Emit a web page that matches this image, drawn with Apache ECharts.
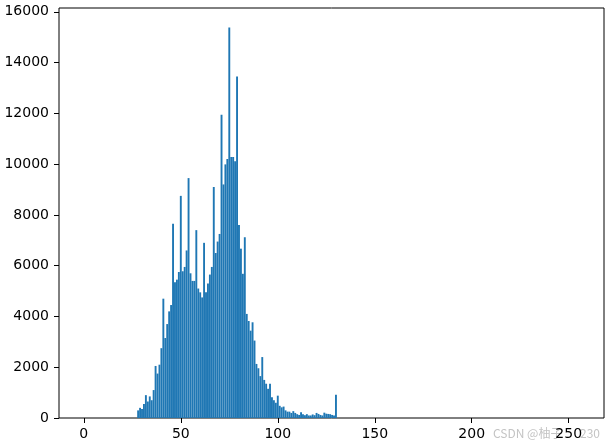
<!DOCTYPE html>
<html>
<head>
<meta charset="utf-8">
<script src="https://cdn.jsdelivr.net/npm/echarts@6/dist/echarts.min.js"></script>
<style>
  html, body { margin: 0; padding: 0; background: #fff; }
  #hist { width: 610px; height: 446px; }
</style>
</head>
<body>
<div id="hist"></div>
<script>
// 灰度值（bin）与像素个数
const bins = [];
for (let b = 28; b <= 130; b++) bins.push(b);
const counts = [
  300, 400, 350, 550, 900, 650, 850, 700, 1100, 2050,      // 28-37
  1750, 2100, 2750, 4700, 3150, 3700, 4200, 4450, 7650, 5350, // 38-47
  5450, 5750, 8750, 5780, 5950, 6600, 9450, 5700, 5400, 5400, // 48-57
  7400, 5100, 4950, 4750, 6900, 4950, 5300, 5650, 5950, 9100, // 58-67
  6500, 6950, 7250, 11950, 9200, 9990, 10200, 15380, 10280, 10280, // 68-77
  10110, 13450, 7600, 6670, 5680, 7120, 4100, 3820, 3440, 3770, // 78-87
  3050, 2130, 1960, 1650, 2400, 1500, 1350, 1150, 1350, 820,  // 88-97
  700, 600, 880, 480, 420, 450, 300, 250, 250, 200,           // 98-107
  270, 200, 150, 120, 230, 150, 110, 150, 100, 100,           // 108-117
  140, 110, 200, 160, 120, 100, 210, 170, 160, 150,           // 118-127
  120, 100, 920                                               // 128-130
];
const xTicks = [0, 50, 100, 150, 200, 250];
const yTicks = [0, 2000, 4000, 6000, 8000, 10000, 12000, 14000, 16000];

const chart = echarts.init(document.getElementById("hist"), null, { renderer: "canvas" });

const font = { fontFamily: "DejaVu Sans", fontSize: 14, color: "#000" };

const option = {
  animation: false,
  grid: {
    left: 59, right: 6, top: 8, bottom: 28,
    containLabel: false,
    outerBoundsMode: "none",
    show: true, borderColor: "#000", borderWidth: 1, backgroundColor: "transparent"
  },
  xAxis: {
    type: "value",
    min: -12.8,
    max: 268.2,
    axisLine: { show: false, onZero: false },
    splitLine: { show: false },
    axisTick: { show: true, length: 5, customValues: xTicks, lineStyle: { color: "#000" } },
    axisLabel: Object.assign({ margin: 9, customValues: xTicks, formatter: (v) => String(v) }, font)
  },
  yAxis: {
    type: "value",
    min: 0,
    max: 16150,
    axisLine: { show: false, onZero: false },
    splitLine: { show: false },
    axisTick: { show: true, length: 5, customValues: yTicks, lineStyle: { color: "#000" } },
    axisLabel: Object.assign({ margin: 10, customValues: yTicks, formatter: (v) => String(v) }, font)
  },
  series: [
    {
      type: "bar",
      barWidth: 1.9,
      itemStyle: { color: "#1f77b4" },
      data: bins.map((b, i) => [b, counts[i]])
    }
  ],
  graphic: [
    { type: "text", left: 493, top: 427, style: { text: "CSDN @柚子", fill: "#c4c4c4", font: "12px 'Noto Sans CJK SC'" } },
    { type: "text", left: 580, top: 427, style: { text: "230", fill: "#c4c4c4", font: "12px 'Noto Sans CJK SC'" } }
  ]
};

chart.setOption(option);
</script>
</body>
</html>
